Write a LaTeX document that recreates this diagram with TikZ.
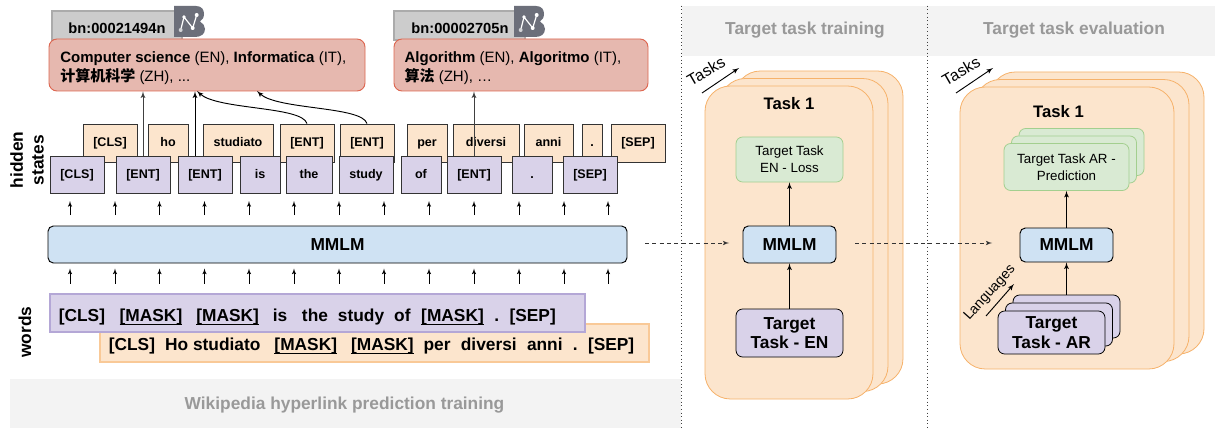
\documentclass[tikz,border=0pt]{standalone}
\usepackage{fontspec}
\setmainfont{Liberation Sans}
\newfontfamily\cjk{Noto Sans CJK SC}
\usepackage{tikz}
\usetikzlibrary{shapes,arrows}
\definecolor{pancard}{HTML}{FCE5CD}
\definecolor{panedge}{HTML}{F6B26B}
\definecolor{lilac}{HTML}{D9D2E9}
\definecolor{lilacedge}{HTML}{B4A7D6}
\definecolor{skyfill}{HTML}{CFE2F3}
\definecolor{mintfill}{HTML}{D9EAD3}
\definecolor{mintedge}{HTML}{A3CF8F}
\definecolor{rosefill}{HTML}{E6B8AF}
\definecolor{roseedge}{HTML}{DD6650}
\definecolor{headfill}{HTML}{F3F3F3}
\definecolor{headtext}{HTML}{999999}
\definecolor{bnfill}{HTML}{CCCCCC}
\definecolor{bnedge}{HTML}{ABABAB}
\definecolor{bnlogo}{HTML}{6C6F7A}
\definecolor{inkedge}{HTML}{333333}
\tikzstyle{sized}=[inner sep=0pt, align=center]
\tikzstyle{tokenfont}=[font=\fontsize{9.4}{11}\selectfont\bfseries, text height=7pt, text depth=2pt]
\tikzstyle{srctoken}=[sized, tokenfont, rectangle, draw=inkedge, fill=pancard, line width=0.7pt]
\tikzstyle{midtoken}=[sized, tokenfont, rectangle, draw=inkedge, fill=lilac, line width=0.7pt]
\tikzstyle{synset}=[sized, rectangle, rounded corners=6pt, draw=roseedge, fill=rosefill, align=left, line width=0.7pt, font=\fontsize{11.25}{14.3}\selectfont]
\tikzstyle{bnhead}=[sized, rectangle, draw=bnedge, fill=bnfill, line width=1pt]
\tikzstyle{bntext}=[sized, font=\fontsize{11}{13}\selectfont\bfseries]
\tikzstyle{mmlm}=[sized, rectangle, rounded corners=4pt, draw=black, fill=skyfill, line width=0.7pt, font=\fontsize{13}{15}\selectfont\bfseries]
\tikzstyle{wordbar}=[sized, rectangle, align=left, line width=1pt, font=\fontsize{13}{15}\selectfont\bfseries]
\tikzstyle{header}=[sized, rectangle, fill=headfill]
\tikzstyle{headlabel}=[sized, text=headtext, font=\fontsize{13}{15}\selectfont\bfseries]
\tikzstyle{sidelabel}=[sized, rotate=90, font=\fontsize{13}{15.5}\selectfont\bfseries]
\tikzstyle{taskcard}=[sized, rectangle, rounded corners=19pt, draw=panedge, fill=pancard, line width=0.6pt]
\tikzstyle{tasktitle}=[sized, font=\fontsize{12.5}{15}\selectfont\bfseries]
\tikzstyle{goalcard}=[sized, rectangle, rounded corners=5pt, draw=mintedge, fill=mintfill, line width=0.6pt, font=\fontsize{10}{12.6}\selectfont]
\tikzstyle{datacard}=[sized, rectangle, rounded corners=5pt, draw=black, fill=lilac, line width=0.6pt, font=\fontsize{13}{14.5}\selectfont\bfseries]
\tikzstyle{flow}=[->, line width=0.7pt]
\tikzstyle{tick}=[->, line width=0.5pt]
\tikzstyle{handover}=[->, line width=0.6pt, inkedge, dash pattern=on 3pt off 2.5pt]
\tikzstyle{divider}=[black!75, line width=0.7pt, dotted]
\newcommand{\boxat}[7]{
	\node[#1, minimum width=#5*0.75pt, minimum height=#6*0.75pt] (#2) at (#3,#4) {#7};}
\newcommand{\cardstack}[9]{
	\boxat{#1}{#2back}{{#3+2*#7}}{{#4-2*#8}}{#5}{#6}{}
	\boxat{#1}{#2mid}{{#3+#7}}{{#4-#8}}{#5}{#6}{}
	\boxat{#1}{#2}{#3}{#4}{#5}{#6}{#9}}
\newcommand{\bnmark}[3]{
	\begin{scope}[shift={(#2,#3)}]
	\fill[bnlogo] (0,0) -- (22,0) .. controls (28,0) and (30,4) .. (30,8) .. controls (30,12) and (28,14) .. (26,15.5) .. controls (29,17) and (31,20) .. (31,23) .. controls (31,28) and (27,31) .. (21,31) -- (0,31) -- cycle;
	\draw[white, line width=0.9pt] (6.7,24) -- (10,11) -- (18.7,22) -- (22.7,9);
	\fill[white] (10,11) circle (1.8) (18.7,22) circle (2) (22.7,9) circle (2);
	\fill[white!70!bnlogo] (6.7,24) circle (2);
	\coordinate (#1) at (15,15);
	\end{scope}}
\newsavebox{\maskbox}
\newcommand{\maskword}{\sbox{\maskbox}{[MASK]}\usebox{\maskbox}\llap{\rule[-2.6pt]{\wd\maskbox}{0.95pt}}}
\newcommand{\hanzi}[1]{{\cjk\bfseries #1}}

\begin{document}
\begin{tikzpicture}[>=latex', x=0.75pt, y=-0.75pt]
\useasboundingbox (0,0) rectangle (1215,428);
\fill[white] (0,0) rectangle (1215,428);
\boxat{header}{foot}{345}{403.5}{671}{49}{}
\boxat{header}{headtrain}{805}{31}{246}{50}{}
\boxat{header}{headeval}{1071.5}{31}{287}{50}{}
\node[headlabel] (foottext) at (344.5,405.5) {Wikipedia hyperlink prediction training};
\node[headlabel] (traintext) at (805,30.5) {Target task training};
\node[headlabel] (evaltext) at (1074,30.5) {Target task evaluation};
\draw[divider] (headtrain.north west) -- (headtrain.north west |- 0,428);
\draw[divider] (headeval.north west) -- (headeval.north west |- 0,428);

\boxat{bnhead}{bnone}{117}{25.5}{130}{29}{}
\boxat{bnhead}{bntwo}{459.5}{25.5}{131}{29}{}
\node[bntext] (bnonetext) at (117,28) {bn:00021494n};
\node[bntext] (bntwotext) at (460,28) {bn:00002705n};
\bnmark{logoone}{174}{6}
\bnmark{logotwo}{514}{6}
\boxat{synset}{cs}{207}{65}{316}{52}{\hspace*{2pt}\begin{minipage}{222pt}\vspace*{5pt}\textbf{Computer science} (EN), \textbf{Informatica} (IT),\\\hanzi{计算机科学} (ZH), ...\end{minipage}}
\boxat{synset}{algo}{521}{65}{254}{52}{\hspace*{-2.5pt}\begin{minipage}{172pt}\vspace*{5pt}\textbf{Algorithm} (EN), \textbf{Algoritmo} (IT),\\\hanzi{算法} (ZH), …\end{minipage}}

\foreach \nodename/\cx/\boxw/\word in {scls/110/54/{[CLS]}, sho/168/40/ho, sstud/238/70/studiato, sent/307/54/{[ENT]}, sentb/367/54/{[ENT]}, sper/427/40/per, sdiv/486/66/diversi, sanni/548.5/49/anni, sdot/592/20/., ssep/638/54/{[SEP]}}
	{\boxat{srctoken}{\nodename}{\cx}{143}{\boxw}{38}{\word}}
\foreach \nodename/\cx/\boxw/\word in {mcls/77/54/{[CLS]}, ment/143/54/{[ENT]}, mentb/205/54/{[ENT]}, mis/260/40/is, mthe/309/46/the, mstudy/366/54/study, mof/421/40/of, mentc/474/54/{[ENT]}, mdot/532/40/., msep/590/54/{[SEP]}}
	{\boxat{midtoken}{\nodename}{\cx}{175}{\boxw}{37}{\word}}

\draw[flow, black!75] (ment.north) -- (ment.north |- cs.south);
\draw[flow] ([xshift=-7.5pt]mentb.north) -- ([xshift=-7.5pt]mentb.north |- cs.south);
\draw[flow, black!75] (mentc.north) -- (mentc.north |- algo.south);
\coordinate (hitone) at (197,91);
\coordinate (hittwo) at (257,91);
\draw[flow] (sent.north) .. controls (302,106) and (217,110) .. (hitone);
\draw[flow] (sentb.north) .. controls (362,106) and (277,110) .. (hittwo);

\boxat{mmlm}{mmlmwide}{337.5}{244.5}{579}{37}{MMLM}
\foreach \cx [count=\i] in {70,115,159.5,204.5,249,294,339,384,429,474,519,564,608}
{
	\coordinate (upa\i) at (\cx,215);
	\coordinate (upb\i) at (\cx,201);
	\coordinate (loa\i) at (\cx,283.5);
	\coordinate (lob\i) at (\cx,268.5);
	\draw[tick] (upa\i) -- (upb\i);
	\draw[tick] (loa\i) -- (lob\i);
}

\boxat{wordbar, draw=panedge!70, fill=pancard}{srcwords}{374.5}{343}{549}{38}{\hspace*{1.5pt}\begin{minipage}{400pt}\vspace*{4.5pt}[CLS]\hspace{7.5pt}Ho\hspace{3.7pt}studiato\hspace{10.5pt}\maskword\hspace{10.5pt}\maskword\hspace{7.5pt}per\hspace{7.7pt}diversi\hspace{7.7pt}anni\hspace{7.7pt}.\hspace{7.7pt}[SEP]\end{minipage}}
\boxat{wordbar, draw=lilacedge, fill=lilac}{midwords}{317.5}{313}{535}{38}{\hspace*{2pt}\begin{minipage}{390pt}\vspace*{6pt}[CLS]\hspace{11pt}\maskword\hspace{10.5pt}\maskword\hspace{10.5pt}is\hspace{11pt}the\hspace{7.5pt}study\hspace{7.5pt}of\hspace{8pt}\maskword\hspace{8pt}.\hspace{7.7pt}[SEP]\end{minipage}}
\node[sidelabel] (hiddenlabel) at (27,160) {hidden\\states};
\node[sidelabel] (wordslabel) at (25,332) {words};

\cardstack{taskcard}{train}{789}{242.5}{168}{313}{15}{7.5}{}
\node[tasktitle] (traintitle) at (789,104) {Task 1};
\boxat{goalcard}{trainloss}{789.5}{159.5}{107}{45}{\vphantom{g}Target Task\\EN - Loss}
\boxat{mmlm}{mmlmtrain}{789.5}{244.5}{93}{37}{MMLM}
\boxat{datacard}{traindata}{789.5}{333}{107}{48}{Target\\Task - EN}
\draw[flow] (traindata) -- (mmlmtrain);
\draw[flow] (mmlmtrain) -- (trainloss);
\coordinate (tasksa) at (702,93);
\coordinate (tasksb) at (739,68);
\draw[flow] (tasksa) -- (tasksb);
\node[sized, rotate=30, font=\fontsize{12}{14}\selectfont] (taskstrain) at (706,71) {Tasks};

\cardstack{taskcard}{eval}{1067}{228}{214}{282}{15}{7.5}{}
\node[tasktitle] (evaltitle) at (1058.5,112) {Task 1};
\cardstack{goalcard}{evalpred}{1066.5}{167}{125}{47}{7.5}{7.5}{Target Task AR -\\Prediction}
\boxat{mmlm}{mmlmeval}{1066.5}{245}{93}{34}{MMLM}
\cardstack{datacard}{evaldata}{1051.5}{332.5}{107}{43}{7.5}{8}{Target\\Task - AR}
\draw[flow] (evaldataback.north -| mmlmeval) -- (mmlmeval);
\draw[flow] (mmlmeval) -- (evalpred.south -| mmlmeval);
\coordinate (taskea) at (956,93);
\coordinate (taskeb) at (993,68);
\draw[flow] (taskea) -- (taskeb);
\node[sized, rotate=30, font=\fontsize{12}{14}\selectfont] (taskseval) at (961,71) {Tasks};
\coordinate (langa) at (986,316);
\coordinate (langb) at (1014,284);
\draw[flow] (langa) -- (langb);
\node[sized, rotate=48, font=\fontsize{10.5}{12}\selectfont] (langlabel) at (990,293) {Languages};

\coordinate (passa) at (645,243);
\coordinate (passb) at (729,243);
\coordinate (passc) at (855,243);
\coordinate (passd) at (992,243);
\draw[handover] (passa) -- (passb);
\draw[handover] (passc) -- (passd);
\end{tikzpicture}
\end{document}
